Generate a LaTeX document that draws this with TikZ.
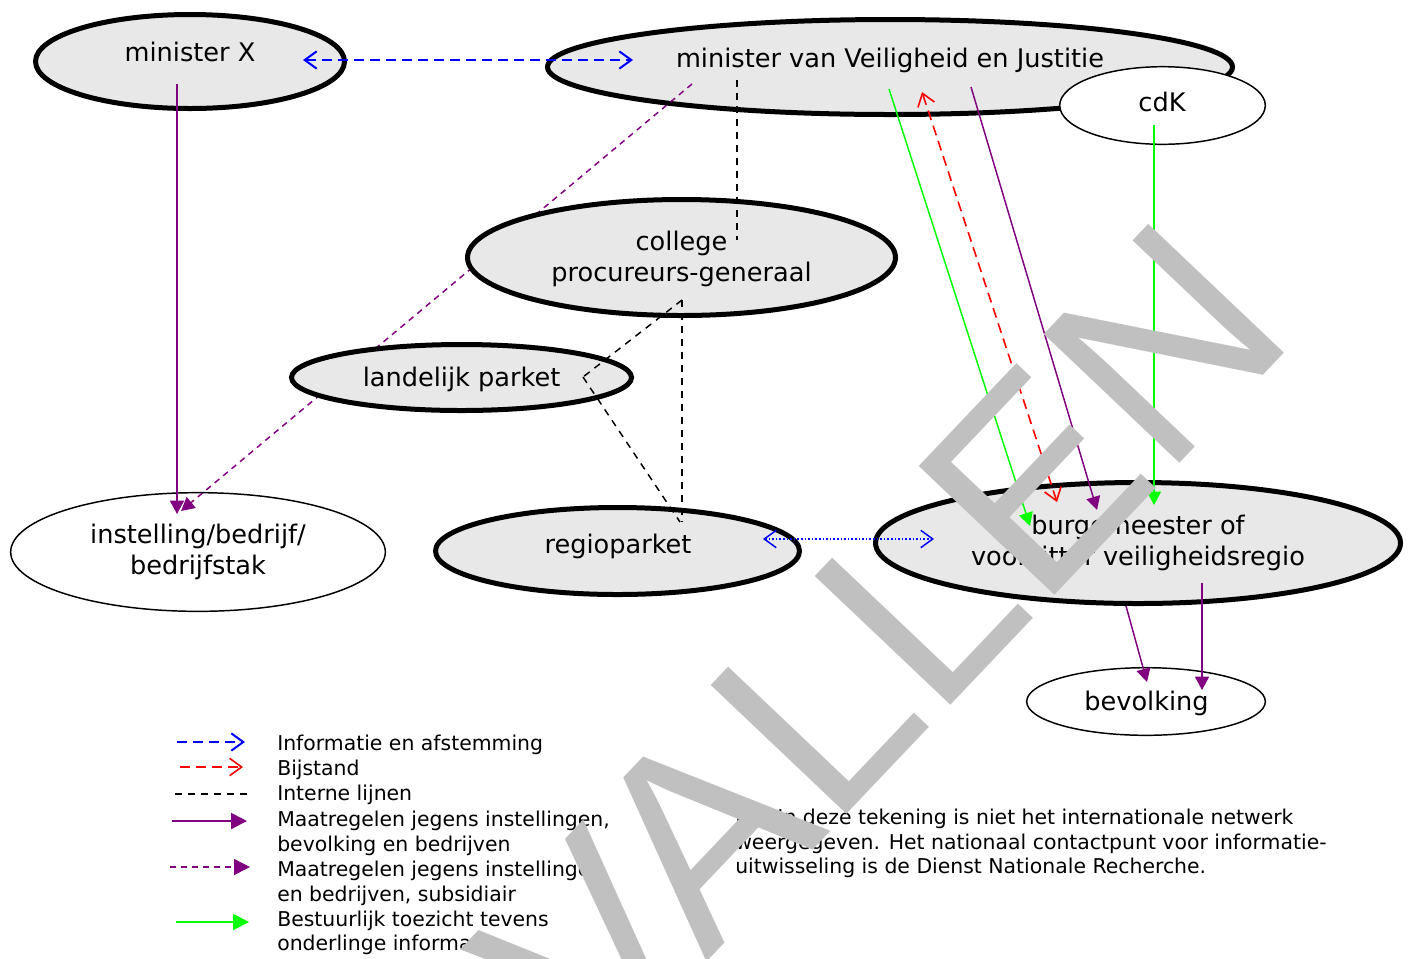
\documentclass[tikz,border=0pt]{standalone}
\usepackage{fontspec}
\setmainfont{DejaVu Sans}
\newfontfamily\wmfont{Liberation Sans}
\usetikzlibrary{shapes.geometric,arrows.meta,calc}
\definecolor{nodegray}{HTML}{E8E8E8}
\definecolor{mpurple}{HTML}{800080}
\definecolor{mgreen}{HTML}{00FF00}
\definecolor{wmgray}{HTML}{C0C0C0}
\begin{document}
\begin{tikzpicture}[x=0.75pt,y=-0.75pt,
  ell/.style={ellipse, inner sep=0pt, draw, line width=3.75pt, fill=nodegray},
  ellthin/.style={ellipse, inner sep=0pt, draw, line width=1.1pt, fill=white},
  lbl/.style={anchor=base, inner sep=0pt, font=\fontsize{19.2}{23}\selectfont},
  leg/.style={anchor=base west, inner sep=0pt, font=\fontsize{15.3}{18.75}\selectfont},
  ob/.tip={Straight Barb[length=9pt,width=13pt]},
  ft/.tip={Triangle[length=10pt,width=10.5pt]},
  fl/.tip={Triangle[length=12pt,width=12pt]},
  infoline/.style={blue, line width=1.5pt, dash pattern=on 7.5pt off 4.5pt},
  bijstand/.style={red, line width=1.2pt, dash pattern=on 7.5pt off 4.5pt},
  intern/.style={black, line width=1.1pt, dash pattern=on 5.25pt off 4.5pt},
  maatr/.style={mpurple, line width=1.1pt},
  subsid/.style={mpurple, line width=1.1pt, dash pattern=on 4.5pt off 3.75pt},
  toezicht/.style={mgreen, line width=1.1pt},
  dotinfo/.style={blue, line width=1.1pt, dash pattern=on 1.2pt off 1.5pt}
]
\useasboundingbox (0,0) rectangle (1412,958);

% ellipses
\node[ell, minimum width=231.75pt, minimum height=70.5pt] (mx) at (190,61.5) {};
\node[ell, minimum width=513.75pt, minimum height=71.25pt] (mvj) at (890,67) {};
\node[ellthin, minimum width=154.2pt, minimum height=58.2pt] (cdk) at (1162.5,105.5) {};
\node[ellthin, minimum width=281pt, minimum height=89pt] (inst) at (198,552) {};
\node[ell, minimum width=273pt, minimum height=65.25pt] (rp) at (617.5,551) {};
\node[ell, minimum width=393.75pt, minimum height=90.75pt] (bg) at (1138,543) {};
\node[ellthin, minimum width=179pt, minimum height=50.7pt] (bev) at (1146,701.5) {};

% subsidiary measures (hidden behind college and landelijk parket)
\draw[subsid, arrows={-ft}] ($(mvj.center)+(-198,17)$) -- ($(inst.center)+(-17,-41)$);

\node[ell, minimum width=321pt, minimum height=87pt] (cpg) at (681.5,257.5) {};
\node[ell, minimum width=255pt, minimum height=49.5pt] (lp) at (461.5,377.5) {};

% labels
\node[lbl] (mxT) at (190,61) {minister X};
\node[lbl] (mvjT) at (890,67) {minister van Veiligheid en Justitie};
\node[lbl] (cdkT) at (1162,111) {cdK};
\node[lbl] (cpgT1) at (681.5,250) {college};
\node[lbl] (cpgT2) at (681.5,281) {procureurs-generaal};
\node[lbl] (lpT) at (461.5,386) {landelijk parket};
\node[lbl] (instT1) at (198,543) {instelling/bedrijf/};
\node[lbl] (instT2) at (198,574) {bedrijfstak};
\node[lbl] (rpT) at (618,553) {regioparket};
\node[lbl] (bgT1) at (1138,534) {burgemeester of};
\node[lbl] (bgT2) at (1138,565) {voorzitter veiligheidsregio};
\node[lbl] (bevT) at (1146.5,710) {bevolking};

% connectors
\draw[infoline, arrows={ob-ob}] ($(mx.center)+(113,-1.5)$) -- ($(mvj.center)+(-257,-7)$);
\draw[intern] ($(mvj.center)+(-153,13)$) -- ($(cpg.center)+(55.5,-17.5)$);
\draw[intern] ($(cpg.center)+(0.5,42.5)$) -- ($(rp.center)+(64.5,-29)$);
\draw[intern] ($(cpg.center)+(0.5,42.5)$) -- ($(lp.center)+(121.5,-0.5)$);
\draw[intern] ($(lp.center)+(121.5,-0.5)$) -- ($(rp.center)+(62.5,-29)$);
\draw[maatr, arrows={-ft}] ($(mx.center)+(-13,22.5)$) -- ($(inst.center)+(-21,-38)$);
\draw[toezicht, arrows={-ft}] ($(mvj.center)+(-1,22)$) -- ($(bg.center)+(-108,-17)$);
\draw[bijstand, arrows={ob-ob}] ($(bg.center)+(-81,-41)$) -- ($(mvj.center)+(32,25)$);
\draw[maatr, arrows={-ft}] ($(mvj.center)+(81,20)$) -- ($(bg.center)+(-41,-33)$);
\draw[toezicht, arrows={-ft}] ($(cdk.center)+(-8.5,19.5)$) -- ($(bg.center)+(16,-38)$);
\draw[dotinfo, arrows={ob-ob}] ($(rp.center)+(145.5,-12)$) -- ($(bg.center)+(-204,-4)$);
\draw[maatr, arrows={-ft}] ($(bg.center)+(-12,63)$) -- ($(bev.center)+(1,-19.5)$);
\draw[maatr, arrows={-ft}] ($(bg.center)+(64,40)$) -- ($(bev.center)+(56,-11.5)$);

% legend
\coordinate (l1a) at (177,742); \coordinate (l1b) at (245,742);
\coordinate (l2a) at (180,767); \coordinate (l2b) at (243,767);
\coordinate (l3a) at (175,794); \coordinate (l3b) at (248,794);
\coordinate (l4a) at (172,821); \coordinate (l4b) at (247,821);
\coordinate (l5a) at (170,867); \coordinate (l5b) at (250,867);
\coordinate (l6a) at (176,922); \coordinate (l6b) at (249,922);
\draw[infoline, arrows={-ob}] (l1a) -- (l1b);
\draw[bijstand, arrows={-ob}] (l2a) -- (l2b);
\draw[intern] (l3a) -- (l3b);
\draw[maatr, line width=1.5pt, arrows={-fl}] (l4a) -- (l4b);
\draw[subsid, arrows={-fl}] (l5a) -- (l5b);
\draw[toezicht, line width=1.5pt, arrows={-fl}] (l6a) -- (l6b);

\node[leg] (g1) at (277,750) {Informatie en afstemming};
\node[leg] (g2) at (277,775) {Bijstand};
\node[leg] (g3) at (277,800) {Interne lijnen};
\node[leg] (g4) at (277,826) {Maatregelen jegens instellingen,};
\node[leg] (g5) at (277,851) {bevolking en bedrijven};
\node[leg] (g6) at (277,876) {Maatregelen jegens instellingen};
\node[leg] (g7) at (277,901) {en bedrijven, subsidiair};
\node[leg] (g8) at (277,926) {Bestuurlijk toezicht tevens};
\node[leg] (g9) at (277,950) {onderlinge informatie};

\node[leg] (nb1) at (735,824) {NB. In deze tekening is niet het internationale netwerk};
\node[leg] (nb2) at (735,849) {weergegeven. Het nationaal contactpunt voor informatie-};
\node[leg] (nb3) at (735,873) {uitwisseling is de Dienst Nationale Recherche.};

% watermark
\node[font=\wmfont\fontsize{204}{204}\selectfont, text=wmgray, rotate=46.5, anchor=base east, inner sep=0pt] (wm) at (1300,337) {VERVALLEN};
\end{tikzpicture}
\end{document}
